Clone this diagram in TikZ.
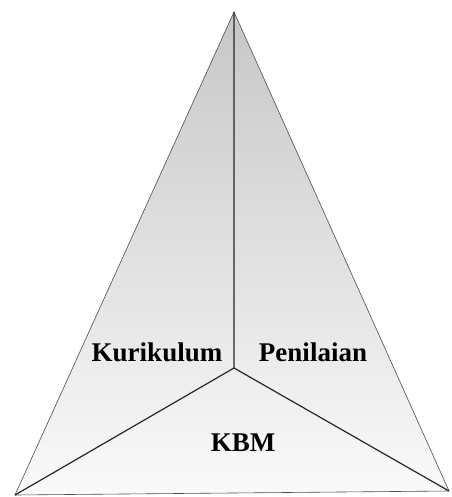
\documentclass[tikz,border=0pt]{standalone}
\usepackage{fontspec}
\setmainfont{Liberation Serif}
\usetikzlibrary{positioning}

\tikzset{
  rim/.style={draw=black!70, line width=0.6pt},
  spoke/.style={draw=black!85, line width=1.2pt},
  lbl/.style={font=\bfseries\fontsize{27}{30}\selectfont}
}

\begin{document}
\begin{tikzpicture}[x=1pt, y=1pt]
  \useasboundingbox (0,0) rectangle (451,-497);
  \coordinate (apex) at (234,-12);
  \coordinate (mid) at (234,-368);
  \coordinate (left) at (15,-495);
  \coordinate (right) at (449,-491);
  % face shading
  \shade [top color=black!22, bottom color=black!2] (apex) -- (right) -- (left) -- cycle;
  \draw [rim] (apex) -- (right) -- (left) -- cycle;
  \draw [spoke] (mid) -- (apex) (mid) -- (left) (mid) -- (right);
  \node [lbl] (kur) at (157,-352) {Kurikulum};
  \node [lbl] (pen) at (313,-352) {Penilaian};
  \node [lbl] (kbm) at (243,-443) {KBM};
\end{tikzpicture}
\end{document}
